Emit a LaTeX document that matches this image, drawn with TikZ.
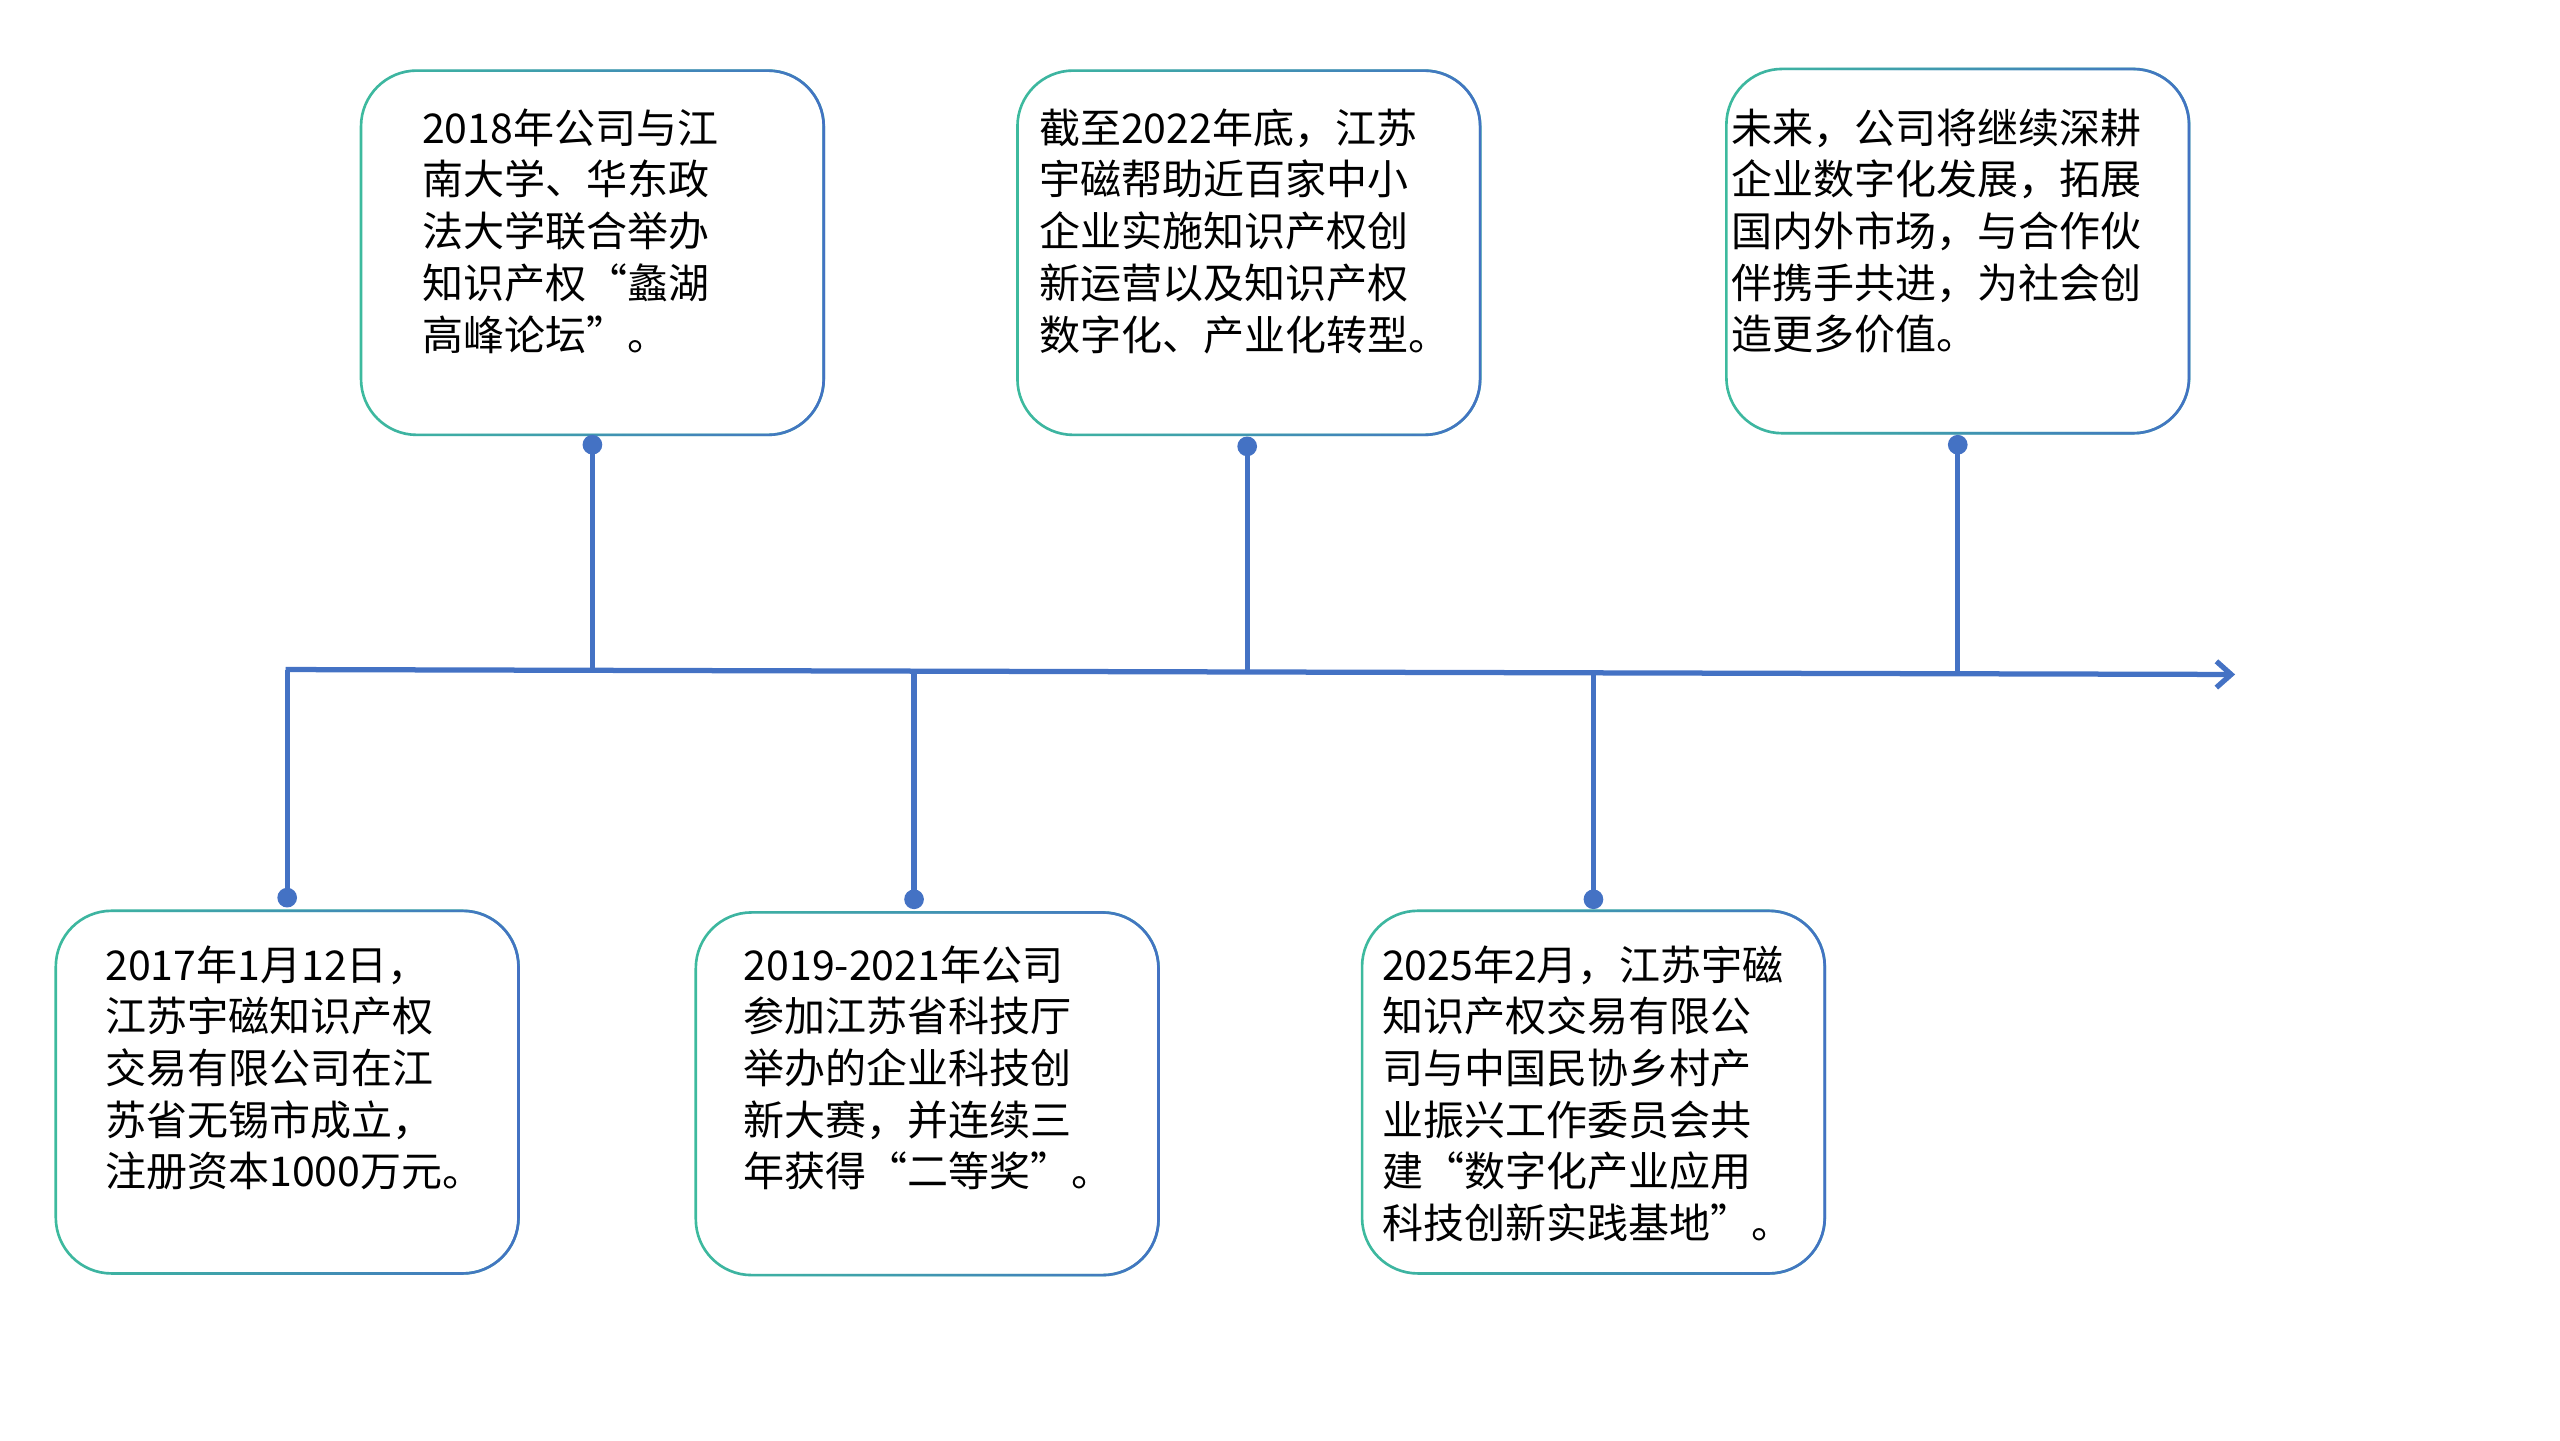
\documentclass[tikz,border=0pt]{standalone}
\usepackage{fontspec}
\setmainfont{Noto Sans CJK SC}
\usetikzlibrary{fadings,arrows.meta}
\definecolor{tl}{HTML}{3DBB9E}
\definecolor{bl}{HTML}{4472C4}
\tikzset{
 bx/.style={line width=1.6pt,rounded corners=34pt},
 txt/.style={anchor=north west,align=left,inner sep=0pt,font=\fontsize{25}{31.5}\selectfont},
 ln/.style={bl,line width=3.2pt},
 dot/.style={circle,fill=bl,inner sep=0pt,minimum size=12pt}
}
\newcommand{\tlbox}[5]{%
 \draw[bx,tl] (#1,#2) rectangle (#3,#4);
 \draw[bx,bl,path fading=west] (#1,#2) rectangle (#3,#4);
 \coordinate (#5) at ({(#1+#3)/2},#4);}
\begin{document}
\begin{tikzpicture}[x=1pt,y=-1pt]
\useasboundingbox (0,0) rectangle (1560,878);
\tlbox{220}{43}{502}{265}{t1}
\tlbox{620}{43}{902}{265}{t2}
\tlbox{1052}{42}{1334}{264}{t3}
\tlbox{34}{555}{316}{776}{b1}
\tlbox{424}{556}{706}{777}{b2}
\tlbox{830}{555}{1112}{776}{b3}
\node[txt] (x1) at (257,66) {2018年公司与江\\南大学、华东政\\法大学联合举办\\知识产权“蠡湖\\高峰论坛”。};
\node[txt] (x2) at (633,66) {截至2022年底，江苏\\宇磁帮助近百家中小\\企业实施知识产权创\\新运营以及知识产权\\数字化、产业化转型。};
\node[txt] (x3) at (1055,66) {未来，公司将继续深耕\\企业数字化发展，拓展\\国内外市场，与合作伙\\伴携手共进，为社会创\\造更多价值。};
\node[txt] (y1) at (64,576) {2017年1月12日，\\江苏宇磁知识产权\\交易有限公司在江\\苏省无锡市成立，\\注册资本1000万元。};
\node[txt] (y2) at (453,576) {2019-2021年公司\\参加江苏省科技厅\\举办的企业科技创\\新大赛，并连续三\\年获得“二等奖”。};
\node[txt] (y3) at (842,576) {2025年2月，江苏宇磁\\知识产权交易有限公\\司与中国民协乡村产\\业振兴工作委员会共\\建“数字化产业应用\\科技创新实践基地”。};
\coordinate (s) at (174,408);
\coordinate (e) at (1362,411);
\draw[ln,-{Straight Barb[length=9pt,width=16pt]}] (s) -- (e);
\node[dot] (d1) at (361,271) {}; \draw[ln] (d1.center) -- (361,408);
\node[dot] (d2) at (760,272) {}; \draw[ln] (d2.center) -- (760,409);
\node[dot] (d3) at (1193,271) {}; \draw[ln] (d3.center) -- (1193,410);
\node[dot] (d4) at (175,547) {}; \draw[ln] (d4.center) -- (175,408);
\node[dot] (d5) at (557,548) {}; \draw[ln] (d5.center) -- (557,409);
\node[dot] (d6) at (971,548) {}; \draw[ln] (d6.center) -- (971,410);
\end{tikzpicture}
\end{document}
